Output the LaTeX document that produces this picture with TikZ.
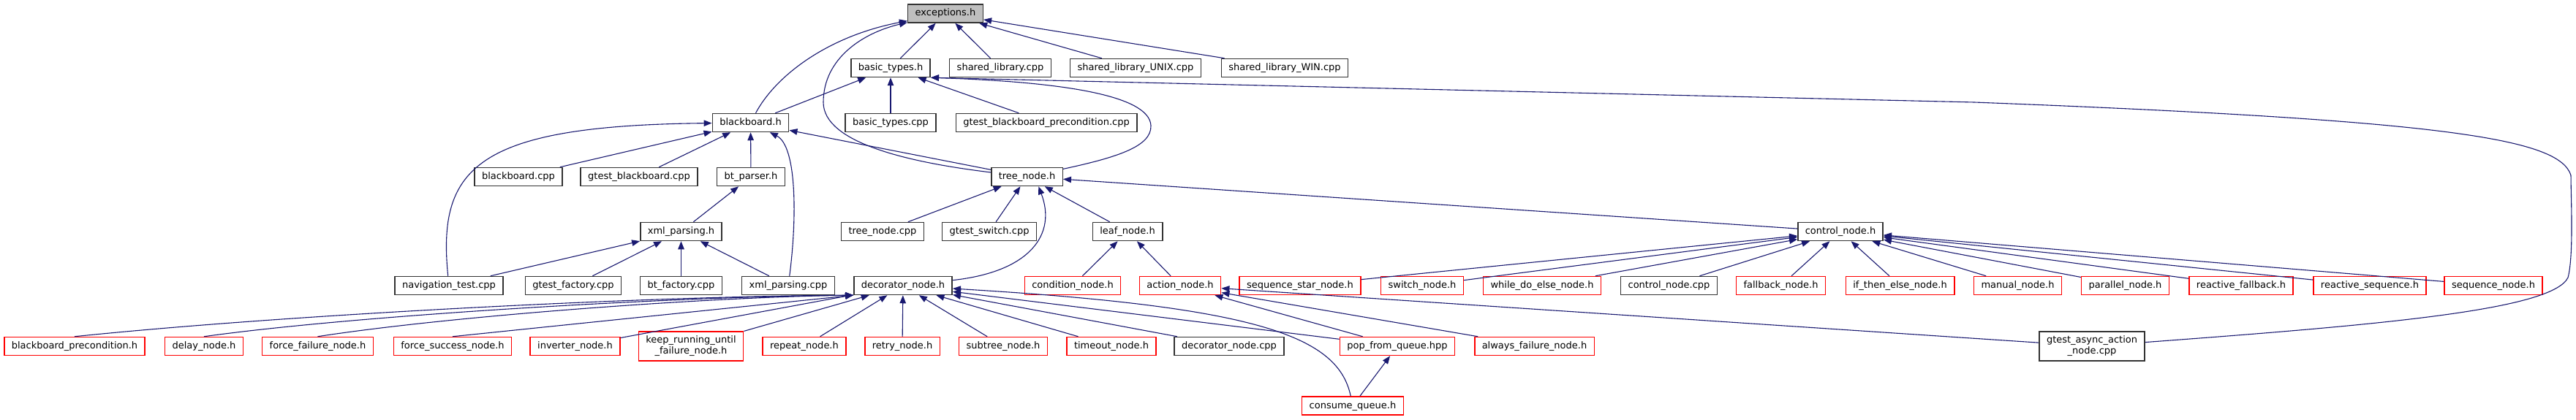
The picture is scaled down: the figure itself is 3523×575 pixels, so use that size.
\documentclass[tikz,border=0pt]{standalone}
\usepackage{fontspec}
\setmainfont{DejaVu Sans}
\usetikzlibrary{arrows.meta}

\begin{document}
\begin{tikzpicture}[x=1pt,y=-1pt,
  hfile/.style={draw=boxgray,fill=white,line width=1.5pt,inner xsep=10pt,inner ysep=6pt,
    text height=10pt,text depth=3pt,font=\fontsize{13}{15}\selectfont},
  nodoc/.style={hfile,draw=red},
  root/.style={hfile,fill=rootgray},
  twoline/.style={text height=,text depth=,align=center},
  incl/.style={draw=edgeblue,line width=1.1pt,-{Triangle[length=11pt,width=8.5pt]}}]

\definecolor{edgeblue}{rgb}{0.098,0.098,0.439}
\definecolor{rootgray}{gray}{0.75}
\definecolor{boxgray}{gray}{0.2}

\useasboundingbox (0,0) rectangle (3523,575);

\node[root] (exc) at (1293,18.5) {exceptions.h};

\node[hfile] (basic) at (1218,93) {basic\_types.h};
\node[hfile] (shlib) at (1368,93) {shared\_library.cpp};
\node[hfile] (shunix) at (1553,93) {shared\_library\_UNIX.cpp};
\node[hfile] (shwin) at (1757,93) {shared\_library\_WIN.cpp};

\node[hfile] (bb) at (1026.5,168) {blackboard.h};
\node[hfile] (basiccpp) at (1218,168) {basic\_types.cpp};
\node[hfile] (gtbbprec) at (1431,168) {gtest\_blackboard\_precondition.cpp};

\node[hfile] (bbcpp) at (709,242) {blackboard.cpp};
\node[hfile] (gtbb) at (874,242) {gtest\_blackboard.cpp};
\node[hfile] (parser) at (1027,242) {bt\_parser.h};
\node[hfile] (tree) at (1404.5,242) {tree\_node.h};

\node[hfile] (xmlh) at (931.5,317) {xml\_parsing.h};
\node[hfile] (treecpp) at (1207,317) {tree\_node.cpp};
\node[hfile] (gtswitch) at (1353,317) {gtest\_switch.cpp};
\node[hfile] (leaf) at (1542,317) {leaf\_node.h};
\node[hfile] (ctrl) at (2517,317) {control\_node.h};

\node[hfile] (nav) at (614,391) {navigation\_test.cpp};
\node[hfile] (gtfact) at (784,391) {gtest\_factory.cpp};
\node[hfile] (btfact) at (931.5,391) {bt\_factory.cpp};
\node[hfile] (xmlcpp) at (1078,391) {xml\_parsing.cpp};
\node[hfile] (deco) at (1235,391) {decorator\_node.h};
\node[nodoc] (cond) at (1467,391) {condition\_node.h};
\node[nodoc] (action) at (1614,391) {action\_node.h};
\node[nodoc] (seqstar) at (1778,391) {sequence\_star\_node.h};
\node[nodoc] (swtch) at (1945,391) {switch\_node.h};
\node[nodoc] (whiledo) at (2109,391) {while\_do\_else\_node.h};
\node[hfile] (ctrlcpp) at (2282.5,391) {control\_node.cpp};
\node[nodoc] (fallback) at (2435.5,391) {fallback\_node.h};
\node[nodoc] (ifthen) at (2598.5,391) {if\_then\_else\_node.h};
\node[nodoc] (manual) at (2759.5,391) {manual\_node.h};
\node[nodoc] (parallel) at (2906.5,391) {parallel\_node.h};
\node[nodoc] (reacfb) at (3065,391) {reactive\_fallback.h};
\node[nodoc] (reacseq) at (3241,391) {reactive\_sequence.h};
\node[nodoc] (seq) at (3410,391) {sequence\_node.h};

\node[nodoc] (bbprec) at (102,474) {blackboard\_precondition.h};
\node[nodoc] (delay) at (279,474) {delay\_node.h};
\node[nodoc] (forcefail) at (434.5,474) {force\_failure\_node.h};
\node[nodoc] (forcesucc) at (619,474) {force\_success\_node.h};
\node[nodoc] (inverter) at (786.5,474) {inverter\_node.h};
\node[nodoc,twoline] (keeprun) at (945,474) {keep\_running\_until\\\_failure\_node.h};
\node[nodoc] (repeat) at (1100,474) {repeat\_node.h};
\node[nodoc] (retry) at (1234,474) {retry\_node.h};
\node[nodoc] (subtree) at (1372,474) {subtree\_node.h};
\node[nodoc] (timeout) at (1520,474) {timeout\_node.h};
\node[hfile] (decocpp) at (1681,474) {decorator\_node.cpp};
\node[nodoc] (pop) at (1911,474) {pop\_from\_queue.hpp};
\node[nodoc] (alwaysfail) at (2098.5,474) {always\_failure\_node.h};
\node[hfile,twoline] (gtasync) at (2861,474) {gtest\_async\_action\\\_node.cpp};

\node[nodoc] (cq) at (1850,555.5) {consume\_queue.h};

% includes of exceptions.h
\draw[incl] (basic) -- (exc);
\draw[incl] (shlib) -- (exc);
\draw[incl] (shunix) -- (exc);
\draw[incl] (shwin) -- (exc);
\draw[incl] (bb) .. controls (1060,105) and (1130,50) .. (exc);
\draw[incl] (tree) .. controls (1240,222) and (1126,195) .. (1126,140)
  .. controls (1126,80) and (1180,45) .. (exc);

\draw[incl] (bb) -- (basic);
\draw[incl] (basiccpp) -- (basic);
\draw[incl] (gtbbprec) -- (basic);
\draw[incl] (tree) .. controls (1530,215) and (1575,200) .. (1574,172)
  .. controls (1572,130) and (1450,112) .. (basic.south east);
\draw[incl] (gtasync) .. controls (3250,445) and (3490,425) .. (3512,380)
  .. controls (3520,350) and (3516,270) .. (3516,240)
  .. controls (3500,190) and (3350,165) .. (2700,140) -- (basic.south east);

\draw[incl] (nav) .. controls (598,230) and (650,172) .. (bb);
\draw[incl] (bbcpp) -- (bb);
\draw[incl] (gtbb) -- (bb);
\draw[incl] (parser) -- (bb);
\draw[incl] (xmlcpp) .. controls (1090,300) and (1090,200) .. (bb);
\draw[incl] (tree) -- (bb);

\draw[incl] (xmlh) -- (parser);
\draw[incl] (nav) -- (xmlh);
\draw[incl] (gtfact) -- (xmlh);
\draw[incl] (btfact) -- (xmlh);
\draw[incl] (xmlcpp) -- (xmlh);

\draw[incl] (treecpp) -- (tree);
\draw[incl] (gtswitch) -- (tree);
\draw[incl] (leaf) -- (tree);
\draw[incl] (ctrl) -- (tree);
\draw[incl] (deco) .. controls (1410,372) and (1445,320) .. (tree.-40);

\draw[incl] (cond) -- (leaf);
\draw[incl] (action) -- (leaf);

% control_node.h
\draw[incl] (seqstar) -- (ctrl);
\draw[incl] (swtch) -- (ctrl);
\draw[incl] (whiledo) -- (ctrl);
\draw[incl] (ctrlcpp) -- (ctrl);
\draw[incl] (fallback) -- (ctrl);
\draw[incl] (ifthen) -- (ctrl);
\draw[incl] (manual) -- (ctrl);
\draw[incl] (parallel) -- (ctrl);
\draw[incl] (reacfb) -- (ctrl);
\draw[incl] (reacseq) -- (ctrl);
\draw[incl] (seq) -- (ctrl);

% decorator_node.h
\draw[incl] (bbprec.north) .. controls (400,430) and (900,405) .. (deco.south west);
\draw[incl] (delay.north) .. controls (500,430) and (950,405) .. (deco.south west);
\draw[incl] (forcefail.north) .. controls (620,432) and (980,406) .. (deco.south west);
\draw[incl] (forcesucc.north) -- (deco.south west);
\draw[incl] (inverter) -- (deco);
\draw[incl] (keeprun) -- (deco);
\draw[incl] (repeat) -- (deco);
\draw[incl] (retry) -- (deco);
\draw[incl] (subtree) -- (deco);
\draw[incl] (timeout) -- (deco);
\draw[incl] (decocpp) -- (deco);
\draw[incl] (pop) -- (deco);
\draw[incl] (cq) .. controls (1830,460) and (1720,420) .. (deco);

\draw[incl] (pop) -- (action);
\draw[incl] (alwaysfail) -- (action);
\draw[incl] (gtasync) -- (action);
\draw[incl] (cq) -- (pop);
\end{tikzpicture}
\end{document}
